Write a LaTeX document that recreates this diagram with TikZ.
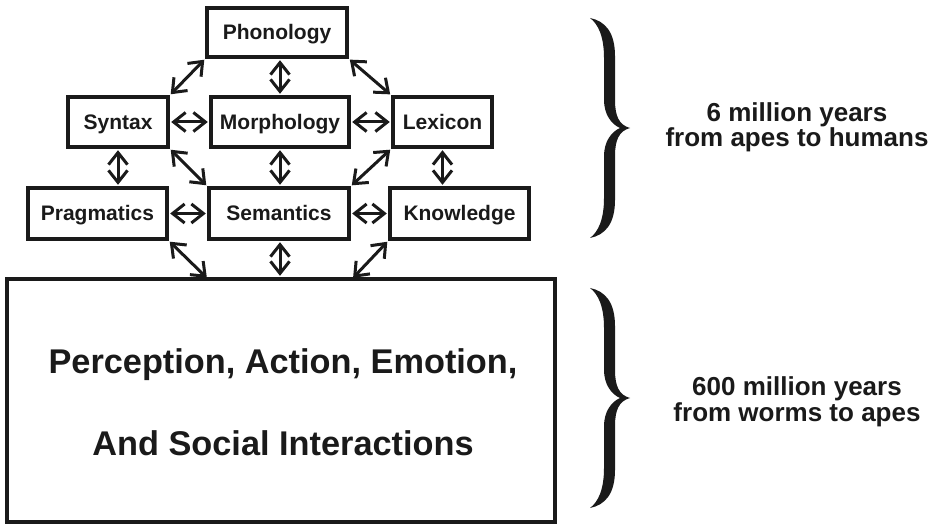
\documentclass[tikz,border=0pt]{standalone}
\usepackage{fontspec}
\setmainfont{Liberation Sans}
\usetikzlibrary{arrows.meta}
\definecolor{ink}{RGB}{26,26,26}
\newcommand\bracefill{%
  \fill[ink] (0,0) .. controls (15,3) and (25,14) .. (25,38) -- (25,82)
    .. controls (25,98) and (29,107) .. (40,110)
    .. controls (29,113) and (25,122) .. (25,138) -- (25,182)
    .. controls (25,206) and (15,217) .. (0,220)
    .. controls (8,214) and (14,202) .. (14,180) -- (14,138)
    .. controls (14,124) and (21,114) .. (30,110)
    .. controls (21,106) and (14,96) .. (14,82) -- (14,40)
    .. controls (14,18) and (8,6) .. (0,0) -- cycle;}
\begin{document}
\begin{tikzpicture}[x=1pt,y=-1pt,
  box/.style={draw=ink, line width=3.2pt, fill=white, inner sep=0pt,
    minimum height=50pt, text height=15pt, text depth=0pt,
    font=\fontsize{21}{25}\selectfont\bfseries, text=ink},
  link/.style={draw=ink, line width=3pt,
    {Straight Barb[length=12pt,width=19pt]}-{Straight Barb[length=12pt,width=19pt]},
    shorten <=1.6pt, shorten >=1.6pt},
  side/.style={font=\fontsize{26}{27}\selectfont\bfseries, text=ink, anchor=base, inner sep=0pt},
  bigtext/.style={font=\fontsize{34.3}{40}\selectfont\bfseries, text=ink, anchor=base, inner sep=0pt}]
\useasboundingbox (0,0) rectangle (936,526);
\fill[white] (0,0) rectangle (936,526);

% boxes
\node[box, minimum width=140pt, minimum height=49pt] (phon) at (277,32.5) {Phonology};
\node[box, minimum width=100pt] (syn) at (118,122) {Syntax};
\node[box, minimum width=138pt] (mor) at (280,122) {Morphology};
\node[box, minimum width=99pt] (lex) at (442.5,122) {Lexicon};
\node[box, minimum width=139pt, minimum height=51pt] (prag) at (97.5,213.5) {Pragmatics};
\node[box, minimum width=140pt, minimum height=51pt] (sem) at (279,213.5) {Semantics};
\node[box, minimum width=139pt, minimum height=51pt] (know) at (459.5,213.5) {Knowledge};
\node[draw=ink, line width=3.2pt, minimum width=548pt, minimum height=243pt, inner sep=0pt] (big) at (281,400.5) {};
\node[bigtext] (t1) at (283,373) {Perception, Action, Emotion,};
\node[bigtext] (t2) at (283,455) {And Social Interactions};

\coordinate (b1) at (208,279);
\coordinate (b3) at (352,279);

% connectors
\draw[link] (phon.south west) -- (syn.north east);
\draw[link] (phon.south -| mor.north) -- (mor.north);
\draw[link] (phon.south east) -- (lex.north west);
\draw[link] (syn.east) -- (mor.west);
\draw[link] (mor.east) -- (lex.west);
\draw[link] (syn.south) -- (syn.south |- prag.north);
\draw[link] (syn.south east) -- (sem.north west);
\draw[link] (mor.south) -- (mor.south |- sem.north);
\draw[link] (lex.south west) -- (sem.north east);
\draw[link] (lex.south) -- (lex.south |- know.north);
\draw[link] (prag.east) -- (sem.west);
\draw[link] (sem.east) -- (know.west);
\draw[link] (prag.south east) -- (b1);
\draw[link] (sem.south -| mor.south) -- (mor.south |- big.north);
\draw[link] (know.south west) -- (b3);

% braces
\begin{scope}[shift={(590,18)}]\bracefill\end{scope}
\begin{scope}[shift={(590,288)}]\bracefill\end{scope}

% side labels
\node[side] (s1) at (797,122) {6 million years};
\node[side] (s2) at (797,147) {from apes to humans};
\node[side] (s3) at (797,395) {600 million years};
\node[side] (s4) at (797,421) {from worms to apes};
\end{tikzpicture}
\end{document}
